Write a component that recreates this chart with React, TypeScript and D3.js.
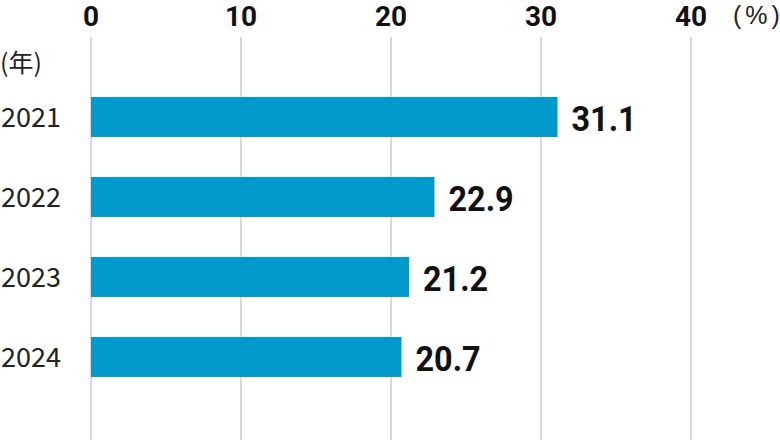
import React from "react";
import * as d3 from "d3";

const years = ["2021", "2022", "2023", "2024"];
const values = [31.1, 22.9, 21.2, 20.7];
const ticks = [0, 10, 20, 30, 40];

const W = 780;
const H = 440;

export default function App() {
  const x = d3.scaleLinear().domain([0, 40]).range([91, 691]);
  const y = d3
    .scaleBand<string>()
    .domain(years)
    .range([77, 397])
    .paddingInner(0.5)
    .paddingOuter(0.25);

  return (
    <svg
      width={W}
      height={H}
      style={{ position: "absolute", left: 0, top: 0, background: "#fff" }}
    >
      {ticks.map((t) => (
        <g key={t}>
          <line x1={x(t)} x2={x(t)} y1={37} y2={H} stroke="#d9d9d9" strokeWidth={2} />
          <text
            x={x(t)}
            y={26}
            textAnchor="middle"
            fontFamily="Roboto, sans-serif"
            fontWeight={700}
            fontSize={28}
            fill="#111"
          >
            {t}
          </text>
        </g>
      ))}
      <text
        x={733}
        y={24}
        fontFamily="'Liberation Sans', sans-serif"
        fontSize={25}
        fill="#222"
      >
        <tspan>(</tspan>
        <tspan dx={4}>%</tspan>
        <tspan dx={4}>)</tspan>
      </text>
      <text x={0} y={72} fontFamily="'Noto Sans CJK JP', sans-serif" fontSize={25} fill="#222">
        (年)
      </text>
      {years.map((yr, i) => {
        const yy = y(yr)!;
        const bw = y.bandwidth();
        return (
          <g key={yr}>
            <rect x={x(0)} y={yy} width={x(values[i]) - x(0)} height={bw} fill="#0099cc" />
            <text
              x={1}
              y={yy + bw / 2 + 10}
              fontFamily="'Noto Sans CJK JP', sans-serif"
              fontSize={27}
              fill="#222"
            >
              {yr}
            </text>
            <g transform={`translate(${x(values[i]) + 14},${yy + bw / 2 + 14}) scale(0.9,1)`}>
              <text
                x={0}
                y={0}
                fontFamily="Roboto, sans-serif"
                fontWeight={700}
                fontSize={36}
                fill="#111"
              >
                {values[i].toFixed(1)}
              </text>
            </g>
          </g>
        );
      })}
    </svg>
  );
}
